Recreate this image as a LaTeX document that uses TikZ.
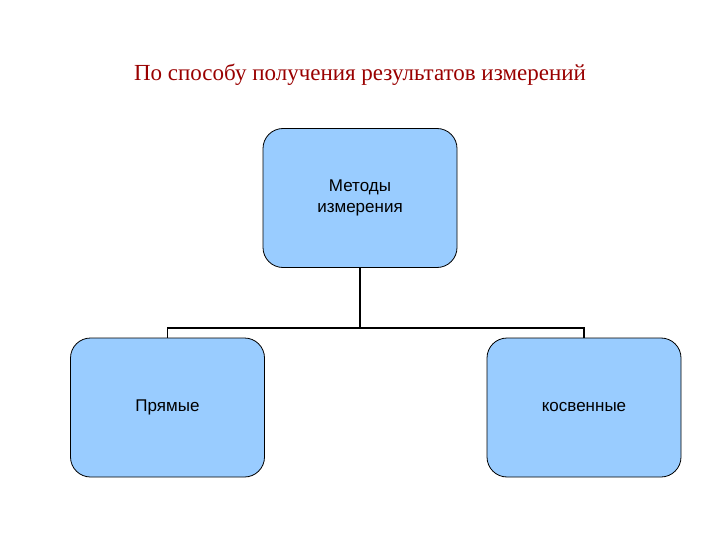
\documentclass[tikz,border=0pt]{standalone}
\usepackage{fontspec}
\setmainfont{Liberation Serif}
\newfontfamily\boxfont{Liberation Sans}
\definecolor{boxblue}{HTML}{99CCFF}
\definecolor{titlered}{HTML}{990000}
\begin{document}
\begin{tikzpicture}[x=1pt,y=-1pt,
  box/.style={draw=black,line width=0.8pt,fill=boxblue,rounded corners=20pt,minimum width=194pt,minimum height=139pt,align=center,font=\boxfont\fontsize{17}{21}\selectfont,inner sep=0pt},
  conn/.style={line width=1.8pt,draw=black}]
\useasboundingbox (0,0) rectangle (720,540);
\node[text=titlered,font=\fontsize{23}{27}\selectfont] (title) at (360,75) {По способу получения результатов измерений};
\node[box] (top) at (360,198) {Методы\\измерения};
\node[box] (left) at (167.5,407.5) {Прямые};
\node[box] (right) at (584,407.5) {косвенные};
\coordinate (j) at (360,328);
\draw[conn] (top.south) -- (j);
\draw[conn] (left.north) -- (left.north |- j) -- (right.north |- j) -- (right.north);
\end{tikzpicture}
\end{document}
